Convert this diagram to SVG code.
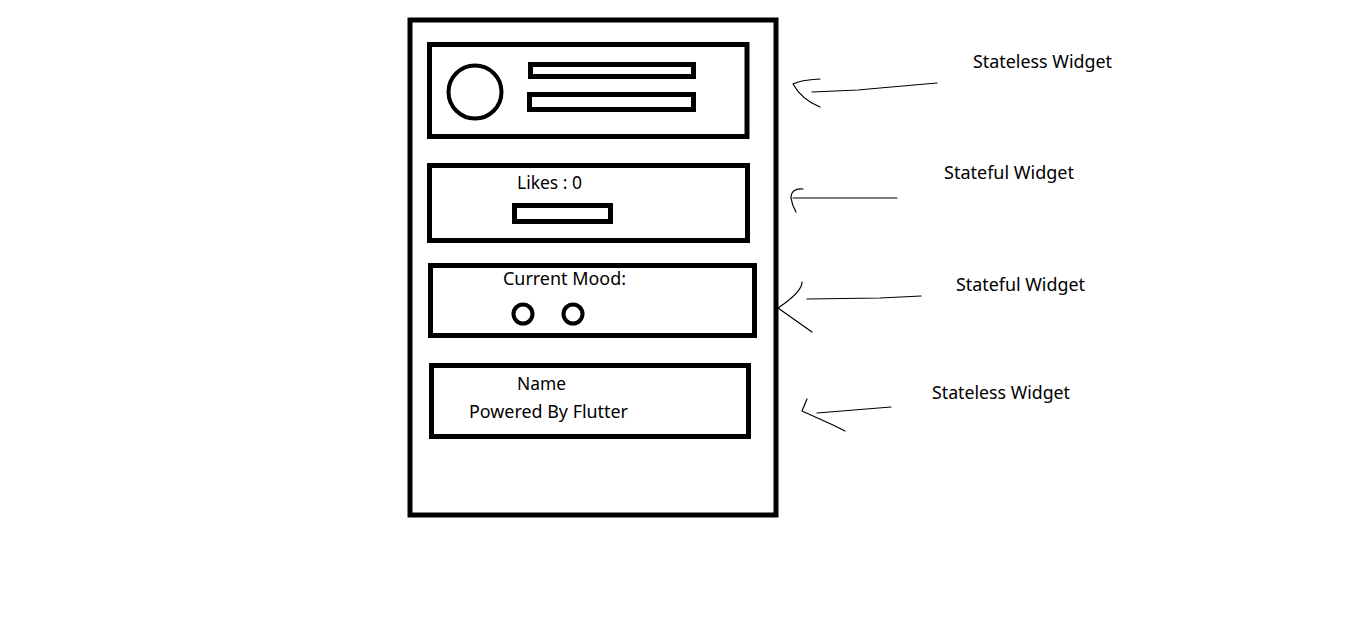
<svg xmlns="http://www.w3.org/2000/svg" width="1360" height="623" viewBox="0 0 1360 623">
<style>
.box{fill:none;stroke:#000;stroke-width:5}
.thin{fill:none;stroke:#000;stroke-width:4}
.arr{fill:none;stroke:#000;stroke-width:1.2;stroke-linecap:round;stroke-linejoin:round}
text{font-family:"Noto Sans","Open Sans","Liberation Sans",sans-serif;font-size:17.5px;fill:#000}
</style>
<rect width="1360" height="623" fill="#fff"/>
<g id="phone">
<rect class="box" x="410" y="20" width="366" height="495"/>
</g>
<g id="header">
<rect class="box" x="429.5" y="44.5" width="317.5" height="92"/>
<circle class="thin" cx="475" cy="92" r="26.5"/>
<rect class="box" x="530.5" y="64.5" width="163" height="12"/>
<rect class="box" x="529.5" y="94.5" width="164" height="15"/>
</g>
<g id="likes">
<rect class="box" x="429.5" y="165.5" width="318" height="75"/>
<text x="517" y="189" textLength="65" lengthAdjust="spacingAndGlyphs">Likes : 0</text>
<rect class="box" x="514.5" y="205.5" width="96" height="16"/>
</g>
<g id="mood">
<rect class="box" x="430.5" y="265.5" width="324" height="70"/>
<text x="503" y="285" textLength="123" lengthAdjust="spacingAndGlyphs">Current Mood:</text>
<circle class="thin" cx="523" cy="314" r="9.5"/>
<circle class="thin" cx="573" cy="314" r="9.5"/>
</g>
<g id="footer">
<rect class="box" x="431.5" y="365.5" width="317" height="71"/>
<text x="517" y="390" textLength="49" lengthAdjust="spacingAndGlyphs">Name</text>
<text x="469" y="418" textLength="159" lengthAdjust="spacingAndGlyphs">Powered By Flutter</text>
</g>
<g id="label-1"><text x="973" y="68" textLength="139" lengthAdjust="spacingAndGlyphs">Stateless Widget</text></g>
<g id="label-2"><text x="944" y="179" textLength="130" lengthAdjust="spacingAndGlyphs">Stateful Widget</text></g>
<g id="label-3"><text x="956" y="291" textLength="129" lengthAdjust="spacingAndGlyphs">Stateful Widget</text></g>
<g id="label-4"><text x="932" y="399" textLength="138" lengthAdjust="spacingAndGlyphs">Stateless Widget</text></g>
<g id="connectors">
<path class="arr" d="M937,83 L880,88 L858,90 L812,92"/>
<path class="arr" d="M820,79 Q800,80 793,84 Q802,100 820,107"/>
<path class="arr" d="M897,198 L793,198"/>
<path class="arr" d="M803,189 Q791,188 791,198 Q792,205 796,212"/>
<path class="arr" d="M921,296 L880,298 L807,299"/>
<path class="arr" d="M802,282 Q802,292 778,308 L812,332"/>
<path class="arr" d="M891,407 L817,413"/>
<path class="arr" d="M807,399 L802,411 L833,425 L845,431"/>
</g>
</svg>
